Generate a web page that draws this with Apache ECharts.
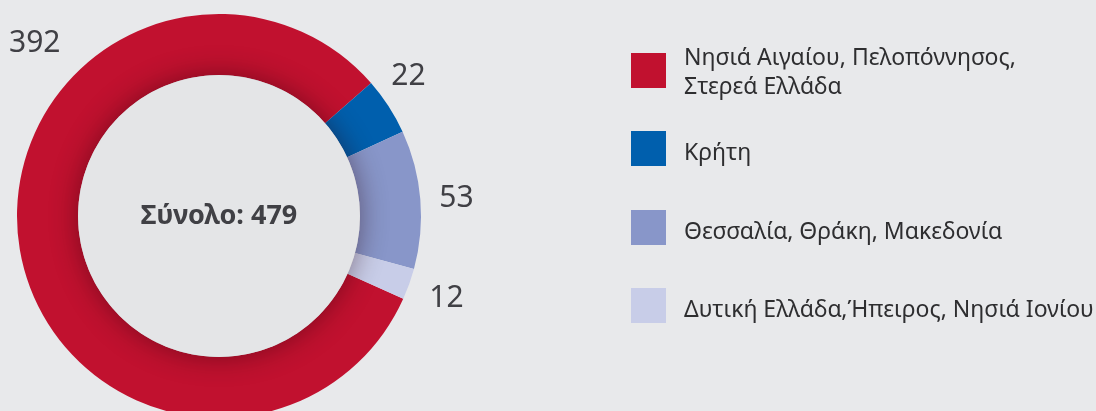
<!DOCTYPE html>
<html>
<head>
<meta charset="utf-8">
<script src="https://cdn.jsdelivr.net/npm/echarts@6/dist/echarts.min.js"></script>
<style>
  html, body { margin: 0; padding: 0; background: #e8e9eb; }
  #chart { width: 1096px; height: 411px; }
</style>
</head>
<body>
<div id="chart"></div>
<script>
  // regions and counts
  var regions = [
    'Νησιά Αιγαίου, Πελοπόννησος,\nΣτερεά Ελλάδα',
    'Κρήτη',
    'Θεσσαλία, Θράκη, Μακεδονία',
    'Δυτική Ελλάδα,Ήπειρος, Νησιά Ιονίου'
  ];
  var counts = [392, 22, 53, 12];
  var colors = ['#c1112f', '#005fad', '#8896c9', '#c8cde8'];
  var totalLabel = 'Σύνολο: 479';

  var chart = echarts.init(document.getElementById('chart'));

  var pieData = [];
  for (var i = 0; i < regions.length; i++) {
    pieData.push({ name: regions[i], value: counts[i], itemStyle: { color: colors[i] } });
  }

  // one legend per item so the rows stay evenly spaced.
  // the icon box is taller than the square so the text sits a bit lower
  var legends = [];
  var legendTops = [44, 131, 210, 288];
  var iconDrop = [5, 10, 10, 10];
  for (var j = 0; j < regions.length; j++) {
    var h = 35 + iconDrop[j];
    legends.push({
      data: [regions[j]],
      left: 631,
      top: legendTops[j],
      padding: 0,
      orient: 'vertical',
      icon: 'path://M0,0 L35,0 L35,35 L0,35 Z M0,' + h + ' L0.01,' + h + ' L0.01,' + (h - 0.01) + ' Z',
      itemWidth: 35,
      itemHeight: h,
      selectedMode: false,
      textStyle: {
        fontFamily: 'Noto Sans',
        fontSize: 23,
        lineHeight: 29,
        color: '#2e2e30',
        padding: [0, 0, 0, 13]
      }
    });
  }

  var option = {
    backgroundColor: '#e8e9eb',
    animation: false,
    legend: legends,
    series: [{
      type: 'pie',
      center: [219, 216],
      radius: [141, 202],
      startAngle: 335.8,
      clockwise: true,
      avoidLabelOverlap: false,
      data: pieData,
      label: {
        show: true,
        position: 'outside',
        formatter: '{c}',
        fontFamily: 'Noto Sans',
        fontSize: 30,
        color: '#404045'
      },
      labelLine: { show: false, length: 14, length2: 0 },
      labelLayout: function (params) {
        if (params.dataIndex === 0) {
          return { x: 9, y: 43, align: 'left', verticalAlign: 'middle' };
        }
        if (params.dataIndex === 1) {
          return { dx: -14, dy: -22 };
        }
        if (params.dataIndex === 3) {
          return { dx: 2, dy: 10 };
        }
        return {};
      },
      emphasis: { disabled: true }
    }, {
      // inner disc with a soft shadow onto the ring
      type: 'pie',
      center: [219, 216],
      radius: [0, 141],
      silent: true,
      z: 3,
      data: [{ value: 1, name: 'inner' }],
      itemStyle: {
        color: '#e4e5e7',
        shadowBlur: 28,
        shadowColor: 'rgba(40,0,10,0.45)'
      },
      label: {
        show: true,
        position: 'center',
        formatter: totalLabel,
        fontFamily: 'Noto Sans',
        fontWeight: 'bold',
        fontSize: 27,
        color: '#404045'
      },
      labelLine: { show: false },
      emphasis: { disabled: true }
    }]
  };
  chart.setOption(option);
</script>
</body>
</html>
